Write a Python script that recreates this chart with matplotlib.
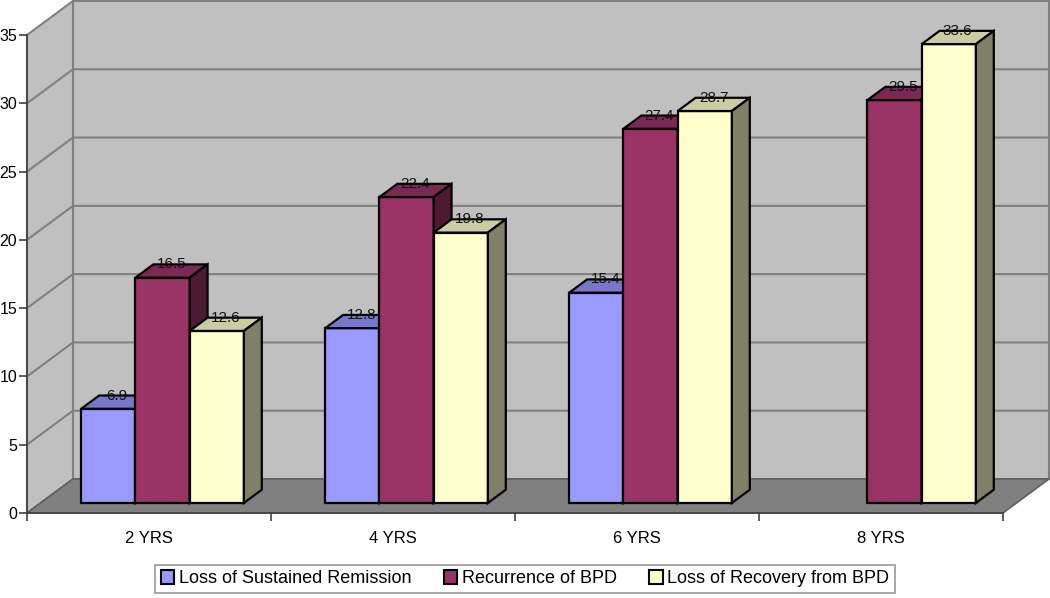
import matplotlib.pyplot as plt
import numpy as np
from matplotlib.patches import Polygon, Patch

plt.rcParams['font.family'] = ['Liberation Sans', 'DejaVu Sans']

categories = ['2 YRS', '4 YRS', '6 YRS', '8 YRS']
sustained_remission = [6.9, 12.8, 15.4, np.nan]
recurrence = [16.5, 22.4, 27.4, 29.5]
recovery = [12.6, 19.8, 28.7, 33.6]
series_names = ['Loss of Sustained Remission', 'Recurrence of BPD',
                'Loss of Recovery from BPD']
yticks = [0, 5, 10, 15, 20, 25, 30, 35]

# front / top / side shades, Excel style
front_colors = ['#9999FF', '#993366', '#FFFFCC']
top_colors = ['#7777CC', '#7A2952', '#CCCCA3']
side_colors = ['#4D4D80', '#4D1A33', '#808066']

wall_color = '#C0C0C0'
floor_color = '#808080'
edge_gray = '#808080'

# depth of the 3d box in data units (x: categories, y: values)
D = 0.1885
H = 2.49
front_frac = 0.294   # where the bars start in depth
bar_depth = 0.39     # bar depth as fraction of box depth
bar_w = 1 / 4.5      # gap width 150 %

fig = plt.figure(figsize=(10.5, 5.98), dpi=100)
ax = fig.add_axes([27 / 1050, 85 / 598, 976 / 1050, 478 / 598])
ax.set_xlim(-0.5, 3.5)
ax.set_ylim(0, 35)

ymax = yticks[-1]
x0, x1 = -0.5, len(categories) - 0.5


def poly(pts, fc, ec, lw, z):
    ax.add_patch(Polygon(pts, closed=True, facecolor=fc, edgecolor=ec,
                         linewidth=lw, clip_on=False, zorder=z, joinstyle='miter'))


# back wall, side wall, floor
poly([(x0 + D, H), (x1 + D, H), (x1 + D, ymax + H), (x0 + D, ymax + H)],
     wall_color, edge_gray, 1.5, 0.5)
poly([(x0, 0), (x0 + D, H), (x0 + D, ymax + H), (x0, ymax)],
     wall_color, edge_gray, 1.5, 0.5)
for v in yticks[1:-1]:
    ax.plot([x0, x0 + D, x1 + D], [v, v + H, v + H], color=edge_gray,
            lw=1.5, clip_on=False, zorder=0.6)
poly([(x0, 0), (x1, 0), (x1 + D, H), (x0 + D, H)],
     floor_color, '#606060', 1.2, 0.7)

# bars
series = [sustained_remission, recurrence, recovery]
dd = bar_depth * D
dh = bar_depth * H
fx = front_frac * D
fy = front_frac * H
z = 2
for i in range(len(categories)):
    for k, vals in enumerate(series):
        v = vals[i]
        if np.isnan(v):
            continue
        xl = i + (k - 1.5) * bar_w + fx
        xr = xl + bar_w
        b = fy
        t = v + fy
        poly([(xl, b), (xr, b), (xr, t), (xl, t)], front_colors[k], 'black', 1.6, z)
        poly([(xl, t), (xr, t), (xr + dd, t + dh), (xl + dd, t + dh)],
             top_colors[k], 'black', 1.6, z)
        poly([(xr, b), (xr + dd, b + dh), (xr + dd, t + dh), (xr, t)],
             side_colors[k], 'black', 1.6, z)
        ax.text((xl + xr) / 2 + dd / 2, t + dh, f'{v:.1f}', ha='center',
                va='center', fontsize=11, color='#111111', zorder=z + 0.5)
        z += 1

# axes
for s in ['top', 'right']:
    ax.spines[s].set_visible(False)
ax.spines['left'].set_color('#404040')
ax.spines['bottom'].set_color('#404040')
ax.spines['left'].set_linewidth(1.2)
ax.spines['bottom'].set_linewidth(1.2)
ax.spines['left'].set_zorder(100)
ax.spines['bottom'].set_zorder(100)

ax.set_yticks(yticks)
ax.tick_params(axis='y', length=6, width=1.2, color='#404040', pad=1, labelsize=11.5)
ax.set_xticks(np.arange(len(categories) + 1) - 0.5)
ax.set_xticklabels([])
ax.tick_params(axis='x', which='major', length=6, width=1.2, color='#404040')
ax.set_xticks(np.arange(len(categories)), minor=True)
ax.set_xticklabels(categories, minor=True)
ax.tick_params(axis='x', which='minor', length=0, pad=13, labelsize=12)

handles = [Patch(facecolor=c, edgecolor='black', linewidth=1.5) for c in front_colors]
leg = fig.legend(handles, series_names, loc='center', bbox_to_anchor=(0.5, 0.032),
                 ncol=3, fontsize=13, frameon=True, fancybox=False,
                 edgecolor='#808080', handlelength=0.75, handleheight=0.75,
                 handletextpad=0.25, columnspacing=1.8, borderpad=0.3,
                 borderaxespad=0)
leg.get_frame().set_linewidth(1.2)

fig.savefig('out.png', dpi=100)
